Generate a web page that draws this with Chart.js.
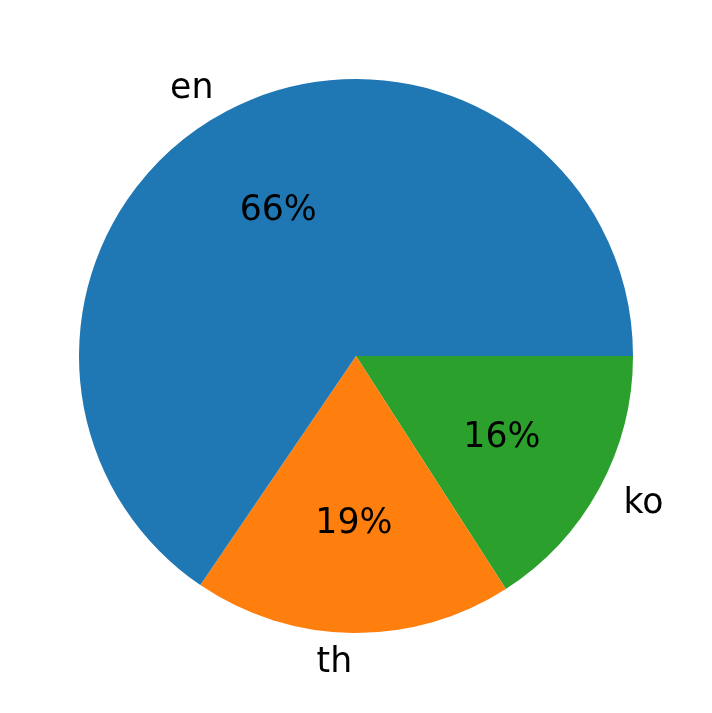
<!DOCTYPE html>
<html>
<head>
<meta charset="utf-8">
<script src="https://cdn.jsdelivr.net/npm/chart.js@4"></script>
<style>
	html, body { margin: 0; padding: 0; background: #fff; }
	#wrap { width: 712px; height: 713px; }
</style>
</head>
<body>
<div id="wrap"><canvas id="pie"></canvas></div>
<script>
	// Slices listed in matplotlib order (counter-clockwise from 3 o'clock)
	var labels = [ 'en', 'th', 'ko' ];
	var values = [ 65.5, 18.6, 15.9 ];
	var colors = [ '#1f77b4', '#ff7f0e', '#2ca02c' ];

	var FONT = '34.7px "DejaVu Sans", sans-serif';

	// Chart.js draws clockwise, so reverse to get the same layout
	var cjLabels = labels.slice().reverse();
	var cjValues = values.slice().reverse();
	var cjColors = colors.slice().reverse();

	var pieLabels = {
		id: 'pieLabels',
		afterDatasetsDraw: function( chart ) {
			var ctx  = chart.ctx;
			var meta = chart.getDatasetMeta( 0 );
			var total = cjValues.reduce( function( a, b ) { return a + b; }, 0 );
			ctx.save();
			ctx.font = FONT;
			ctx.fillStyle = '#000';
			ctx.textBaseline = 'middle';
			meta.data.forEach( function( arc, i ) {
				var mid = ( arc.startAngle + arc.endAngle ) / 2;
				var r   = arc.outerRadius;
				var cx  = arc.x, cy = arc.y + 2;

				// percentage inside
				ctx.textAlign = 'center';
				var pct = Math.round( cjValues[i] / total * 100 ) + '%';
				ctx.fillText( pct, cx + Math.cos( mid ) * r * 0.6, cy + Math.sin( mid ) * r * 0.6 );

				// label outside
				var lx = cx + Math.cos( mid ) * r * 1.1;
				var ly = cy + Math.sin( mid ) * r * 1.1;
				ctx.textAlign = Math.cos( mid ) > 0 ? 'left' : 'right';
				ctx.fillText( cjLabels[i], lx, ly );
			});
			ctx.restore();
		}
	};

	new Chart( document.getElementById( 'pie' ).getContext( '2d' ), {
		type: 'pie',
		data: {
			labels: cjLabels,
			datasets: [{
				data: cjValues,
				backgroundColor: cjColors,
				borderWidth: 0
			}]
		},
		options: {
			responsive: true,
			maintainAspectRatio: false,
			animation: false,
			rotation: 90,
			layout: { padding: { left: 79, right: 79, top: 79, bottom: 80 } },
			plugins: {
				legend: { display: false },
				tooltip: { enabled: false }
			}
		},
		plugins: [ pieLabels ]
	});
</script>
</body>
</html>
